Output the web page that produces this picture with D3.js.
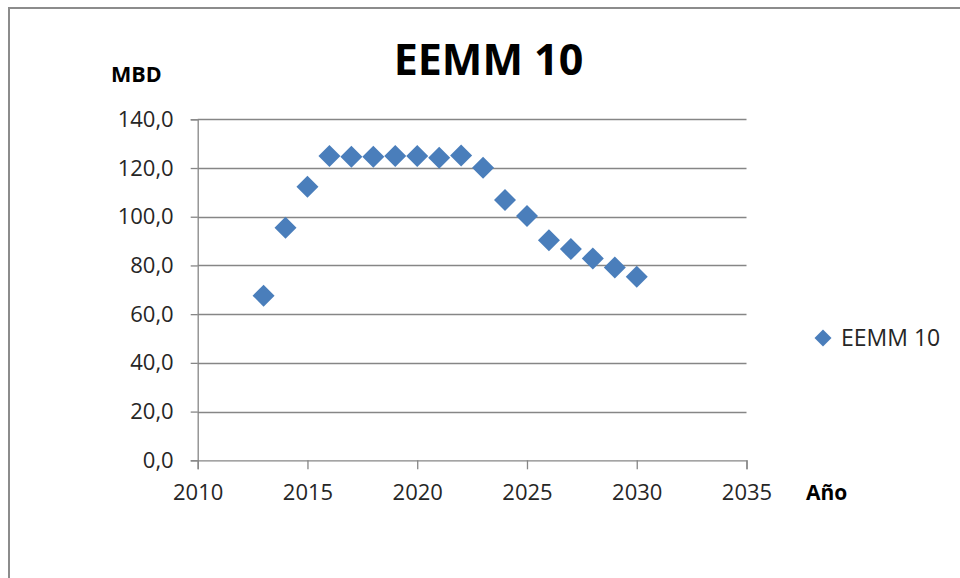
<!DOCTYPE html>
<html>
<head>
<meta charset="utf-8">
<script src="https://cdn.jsdelivr.net/npm/d3@7"></script>
<style>
  html, body { margin: 0; padding: 0; background: #fff; }
  svg { display: block; }
  text { font-family: "Open Sans", "Liberation Sans", sans-serif; }
</style>
</head>
<body>
<div id="chart"></div>
<script>
// Annual production, EEMM 10 (MBD)
const years = [2013, 2014, 2015, 2016, 2017, 2018, 2019, 2020, 2021, 2022, 2023, 2024, 2025, 2026, 2027, 2028, 2029, 2030];
const values = [67.6, 95.5, 112.3, 124.9, 124.6, 124.6, 124.9, 124.9, 124.2, 125.1, 120.1, 106.9, 100.3, 90.3, 86.7, 82.9, 79.2, 75.4];
const seriesName = "EEMM 10";
const chartTitle = "EEMM 10";
const yAxisTitle = "MBD";
const xAxisTitle = "Año";
const xTicks = [2010, 2015, 2020, 2025, 2030, 2035];
const yTicks = [0, 20, 40, 60, 80, 100, 120, 140];

const W = 960, H = 578;
const plot = { left: 197.7, right: 746.5, top: 119.3, bottom: 460.3 };
const gridColor = "#868686";
const markerColor = "#4a7ebb";
const textColor = "#262626";

const svg = d3.select("#chart").append("svg")
  .attr("width", W).attr("height", H);

// chart frame
svg.append("rect")
  .attr("x", 9).attr("y", 8)
  .attr("width", W + 20).attr("height", H + 20)
  .attr("fill", "#fff")
  .attr("stroke", "#8c8c8c").attr("stroke-width", 2);

const x = d3.scaleLinear().domain([2010, 2035]).range([plot.left, plot.right]);
const y = d3.scaleLinear().domain([0, 140]).range([plot.bottom, plot.top]);

const fmt = v => d3.format(".1f")(v).replace(".", ",");

// horizontal gridlines
svg.append("g")
  .selectAll("line")
  .data(yTicks.filter(v => v > 0))
  .join("line")
  .attr("x1", plot.left).attr("x2", plot.right)
  .attr("y1", d => Math.round(y(d)) + 0.5).attr("y2", d => Math.round(y(d)) + 0.5)
  .attr("stroke", gridColor).attr("stroke-width", 1.3);

// y axis
const yAxis = svg.append("g")
  .attr("transform", `translate(${plot.left},0)`)
  .call(d3.axisLeft(y).tickValues(yTicks).tickFormat(fmt).tickSize(7).tickPadding(17));
yAxis.select(".domain").attr("stroke", gridColor).attr("stroke-width", 1.3);
yAxis.selectAll(".tick line").attr("stroke", gridColor).attr("stroke-width", 1.3);
yAxis.selectAll(".tick text")
  .attr("fill", textColor)
  .style("font-size", "22px")
  .style("font-family", "'Open Sans', sans-serif");

// x axis
const xAxis = svg.append("g")
  .attr("transform", `translate(0,${plot.bottom})`)
  .call(d3.axisBottom(x).tickValues(xTicks).tickFormat(d3.format("d")).tickSize(9).tickPadding(15));
xAxis.select(".domain").attr("stroke", gridColor).attr("stroke-width", 1.3);
xAxis.selectAll(".tick line").attr("stroke", gridColor).attr("stroke-width", 1.3);
xAxis.selectAll(".tick text")
  .attr("fill", textColor)
  .style("font-size", "22px")
  .style("font-family", "'Open Sans', sans-serif");

// data markers (diamonds)
const diamondPath = r => `M0,${-r}L${r},0L0,${r}L${-r},0Z`;

svg.append("g")
  .selectAll("path")
  .data(years.map((yr, i) => ({ yr, v: values[i] })))
  .join("path")
  .attr("transform", d => `translate(${x(d.yr)},${y(d.v)})`)
  .attr("d", diamondPath(11))
  .attr("fill", markerColor);

// title
svg.append("text")
  .attr("x", 488.5).attr("y", 75)
  .attr("text-anchor", "middle")
  .attr("fill", "#000")
  .style("font-size", "43px")
  .style("font-weight", "bold")
  .text(chartTitle);

// axis titles
svg.append("text")
  .attr("x", 111).attr("y", 82)
  .attr("fill", "#000")
  .style("font-size", "21.5px")
  .style("font-weight", "bold")
  .text(yAxisTitle);

svg.append("text")
  .attr("x", 806).attr("y", 500)
  .attr("fill", "#000")
  .style("font-size", "21px")
  .style("font-weight", "bold")
  .text(xAxisTitle);

// legend
const legend = svg.append("g").attr("transform", "translate(823,338)");
legend.append("path").attr("d", diamondPath(8.5)).attr("fill", markerColor);
legend.append("text")
  .attr("x", 18).attr("y", 8)
  .attr("fill", textColor)
  .style("font-size", "23px")
  .text(seriesName);
</script>
</body>
</html>
